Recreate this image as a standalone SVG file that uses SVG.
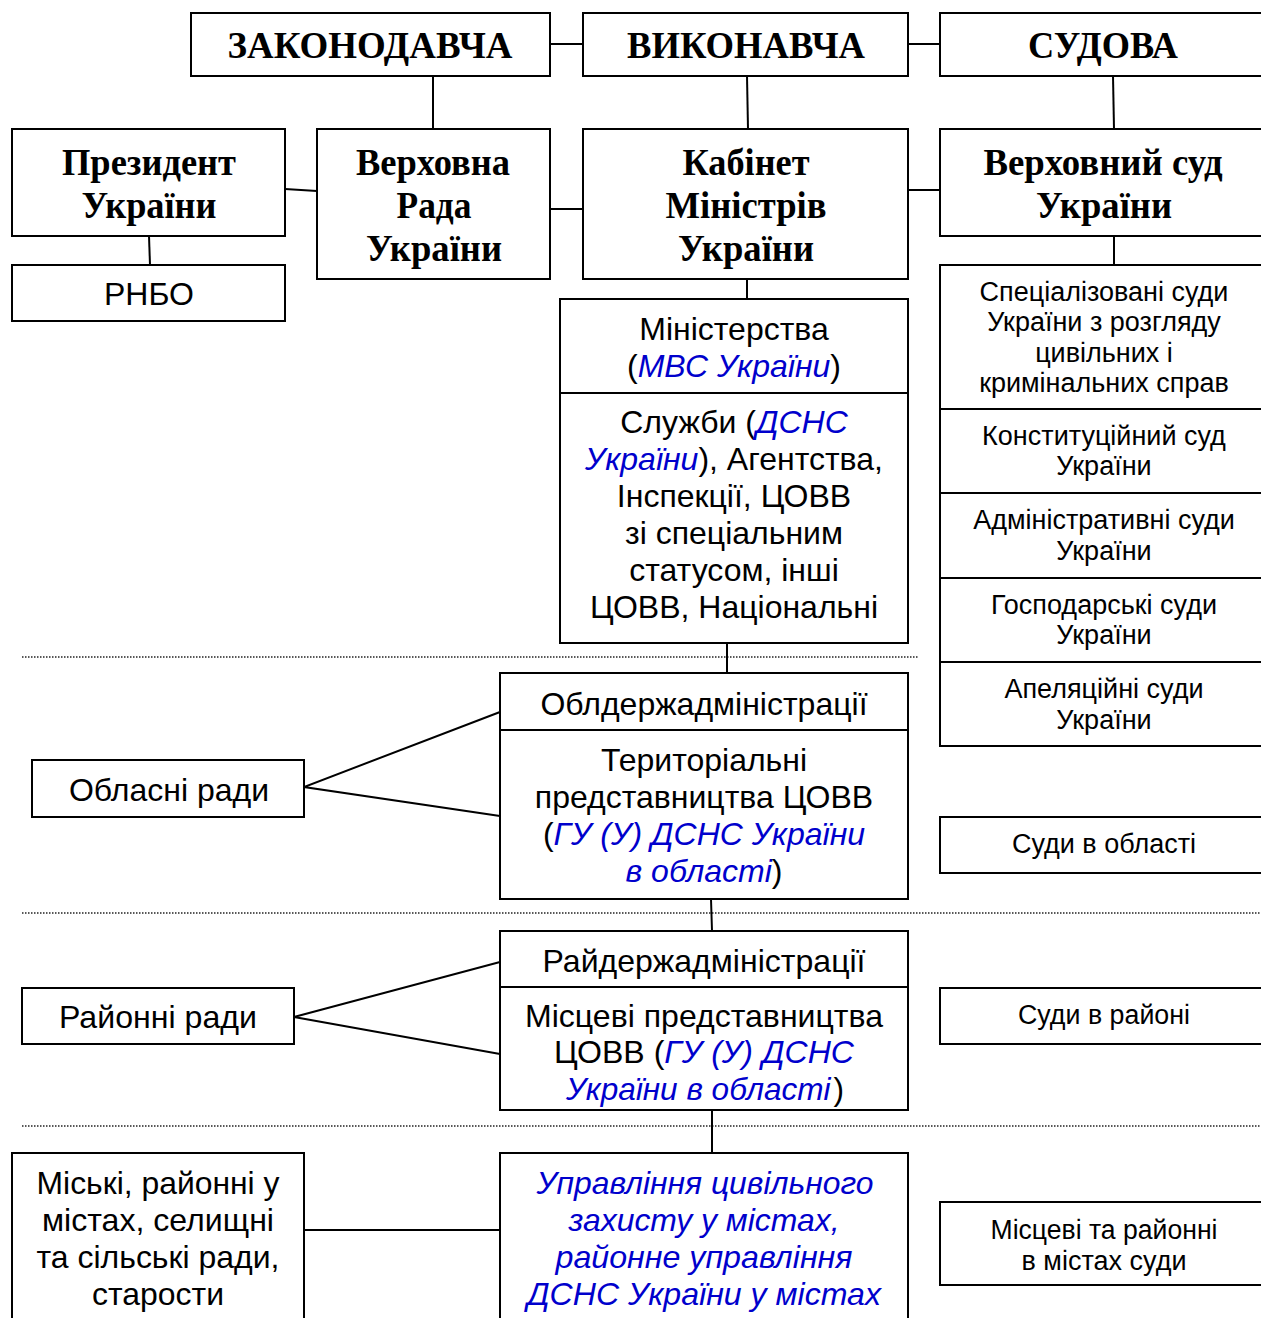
<svg xmlns="http://www.w3.org/2000/svg" width="1261" height="1318" viewBox="0 0 1261 1318">
<style>
rect.b{fill:#fff;stroke:#000;stroke-width:2}
.c line,.c polyline{stroke:#000;stroke-width:2;fill:none}
.dot{stroke:#222;stroke-width:1.5;stroke-dasharray:1.5 1.5;fill:none}
.h{font-family:"Liberation Serif","Times New Roman",serif;font-weight:bold;font-size:37px;text-anchor:middle;fill:#000}
.s{font-family:"Liberation Sans",Arial,sans-serif;font-size:32px;text-anchor:middle;fill:#000}
.m{font-family:"Liberation Sans",Arial,sans-serif;font-size:27px;text-anchor:middle;fill:#000}
.bl{fill:#0000cc;font-style:italic}
</style>
<defs>
<clipPath id="clipRai"><rect x="500" y="987" width="408" height="123"/></clipPath>
</defs>
<rect width="1261" height="1318" fill="#fff"/>
<g class="dots">
<line class="dot" x1="22" y1="657" x2="918" y2="657"/>
<line class="dot" x1="22" y1="913" x2="1261" y2="913"/>
<line class="dot" x1="22" y1="1126" x2="1261" y2="1126"/>
</g>
<g class="c" id="connectors">
<line x1="550" y1="44" x2="583" y2="44"/>
<line x1="908" y1="44" x2="940" y2="44"/>
<line x1="433" y1="76" x2="433" y2="129"/>
<line x1="747" y1="76" x2="748" y2="129"/>
<line x1="1113" y1="76" x2="1114" y2="129"/>
<line x1="285" y1="189" x2="317" y2="191"/>
<line x1="550" y1="209" x2="583" y2="209"/>
<line x1="908" y1="190" x2="940" y2="190"/>
<line x1="149" y1="236" x2="150" y2="265"/>
<line x1="747" y1="279" x2="747" y2="299"/>
<line x1="1114" y1="236" x2="1114" y2="265"/>
<line x1="727" y1="643" x2="727" y2="673"/>
<polyline points="500,712 304,787 500,816"/>
<line x1="711" y1="899" x2="712" y2="931"/>
<polyline points="500,962 294,1017 500,1054"/>
<line x1="712" y1="1110" x2="712" y2="1153"/>
<line x1="304" y1="1230" x2="500" y2="1230"/>
</g>
<g id="zakonodavcha"><rect class="b" x="191" y="13" width="359" height="63"/><text class="h" x="370" y="58" textLength="285" lengthAdjust="spacingAndGlyphs">ЗАКОНОДАВЧА</text></g>
<g id="vykonavcha"><rect class="b" x="583" y="13" width="325" height="63"/><text class="h" x="746" y="58" textLength="238" lengthAdjust="spacingAndGlyphs">ВИКОНАВЧА</text></g>
<g id="sudova"><rect class="b" x="940" y="13" width="330" height="63"/><text class="h" x="1103" y="58" textLength="150" lengthAdjust="spacingAndGlyphs">СУДОВА</text></g>
<g id="president"><rect class="b" x="12" y="129" width="273" height="107"/><text class="h" x="149" y="175" textLength="174" lengthAdjust="spacingAndGlyphs">Президент</text><text class="h" x="149" y="218" textLength="135" lengthAdjust="spacingAndGlyphs">України</text></g>
<g id="rada"><rect class="b" x="317" y="129" width="233" height="150"/><text class="h" x="433" y="175" textLength="154" lengthAdjust="spacingAndGlyphs">Верховна</text><text class="h" x="434" y="218" textLength="75" lengthAdjust="spacingAndGlyphs">Рада</text><text class="h" x="434" y="261" textLength="136" lengthAdjust="spacingAndGlyphs">України</text></g>
<g id="kabmin"><rect class="b" x="583" y="129" width="325" height="150"/><text class="h" x="746" y="175" textLength="127" lengthAdjust="spacingAndGlyphs">Кабінет</text><text class="h" x="746" y="218" textLength="161" lengthAdjust="spacingAndGlyphs">Міністрів</text><text class="h" x="746" y="261" textLength="136" lengthAdjust="spacingAndGlyphs">України</text></g>
<g id="vsu"><rect class="b" x="940" y="129" width="330" height="107"/><text class="h" x="1103" y="175" textLength="239" lengthAdjust="spacingAndGlyphs">Верховний суд</text><text class="h" x="1104" y="218" textLength="136" lengthAdjust="spacingAndGlyphs">України</text></g>
<g id="rnbo"><rect class="b" x="12" y="265" width="273" height="56"/><text class="s" x="149" y="305">РНБО</text></g>
<g id="ministerstva"><rect class="b" x="560" y="299" width="348" height="94"/><text class="s" x="734" y="340">Міністерства</text><text class="s" x="734" y="377">(<tspan class="bl">МВС України</tspan>)</text></g>
<g id="sluzhby"><rect class="b" x="560" y="393" width="348" height="250"/>
<text class="s" x="734" y="433">Служби (<tspan class="bl">ДСНС</tspan></text>
<text class="s" x="734" y="470"><tspan class="bl">України</tspan>), Агентства,</text>
<text class="s" x="734" y="507">Інспекції, ЦОВВ</text>
<text class="s" x="734" y="544">зі спеціальним</text>
<text class="s" x="734" y="581">статусом, інші</text>
<text class="s" x="734" y="618">ЦОВВ, Національні</text>
</g>
<g id="spec"><rect class="b" x="940" y="265" width="330" height="144"/>
<text class="m" x="1104" y="301">Спеціалізовані суди</text>
<text class="m" x="1104" y="331">України з розгляду</text>
<text class="m" x="1104" y="362">цивільних і</text>
<text class="m" x="1104" y="392">кримінальних справ</text></g>
<g id="konst"><rect class="b" x="940" y="409" width="330" height="84"/><text class="m" x="1104" y="445">Конституційний суд</text><text class="m" x="1104" y="475">України</text></g>
<g id="admin"><rect class="b" x="940" y="493" width="330" height="85"/><text class="m" x="1104" y="529">Адміністративні суди</text><text class="m" x="1104" y="560">України</text></g>
<g id="gosp"><rect class="b" x="940" y="578" width="330" height="84"/><text class="m" x="1104" y="614">Господарські суди</text><text class="m" x="1104" y="644">України</text></g>
<g id="apel"><rect class="b" x="940" y="662" width="330" height="84"/><text class="m" x="1104" y="698">Апеляційні суди</text><text class="m" x="1104" y="729">України</text></g>
<g id="oblderzh"><rect class="b" x="500" y="673" width="408" height="57"/><text class="s" x="704" y="715">Облдержадміністрації</text></g>
<g id="terpred"><rect class="b" x="500" y="730" width="408" height="169"/>
<text class="s" x="704" y="771">Територіальні</text>
<text class="s" x="704" y="808">представництва ЦОВВ</text>
<text class="s" x="704" y="845">(<tspan class="bl">ГУ (У) ДСНС України</tspan></text>
<text class="s" x="704" y="882"><tspan class="bl">в області</tspan>)</text></g>
<g id="oblrady"><rect class="b" x="32" y="760" width="272" height="57"/><text class="s" x="169" y="801">Обласні ради</text></g>
<g id="sudy-obl"><rect class="b" x="940" y="817" width="330" height="56"/><text class="m" x="1104" y="853">Суди в області</text></g>
<g id="raiderzh"><rect class="b" x="500" y="931" width="408" height="56"/><text class="s" x="704" y="972" textLength="323" lengthAdjust="spacingAndGlyphs">Райдержадміністрації</text></g>
<g id="mispred"><rect class="b" x="500" y="987" width="408" height="123"/>
<g clip-path="url(#clipRai)">
<text class="s" x="704" y="1027" textLength="358" lengthAdjust="spacingAndGlyphs">Місцеві представництва</text>
<text class="s" x="704" y="1063" textLength="300" lengthAdjust="spacingAndGlyphs">ЦОВВ (<tspan class="bl">ГУ (У) ДСНС</tspan></text>
<text class="s" x="705" y="1100" textLength="278" lengthAdjust="spacingAndGlyphs"><tspan class="bl">України в області</tspan><tspan dx="3">)</tspan></text>
</g></g>
<g id="raionni"><rect class="b" x="22" y="988" width="272" height="56"/><text class="s" x="158" y="1028" textLength="198" lengthAdjust="spacingAndGlyphs">Районні ради</text></g>
<g id="sudy-rai"><rect class="b" x="940" y="988" width="330" height="56"/><text class="m" x="1104" y="1024" textLength="172" lengthAdjust="spacingAndGlyphs">Суди в районі</text></g>
<g id="miski"><rect class="b" x="12" y="1153" width="292" height="175"/>
<text class="s" x="158" y="1194" textLength="243" lengthAdjust="spacingAndGlyphs">Міські, районні у</text>
<text class="s" x="158" y="1231" textLength="232" lengthAdjust="spacingAndGlyphs">містах, селищні</text>
<text class="s" x="158" y="1268" textLength="243" lengthAdjust="spacingAndGlyphs">та сільські ради,</text>
<text class="s" x="158" y="1305" textLength="132" lengthAdjust="spacingAndGlyphs">старости</text></g>
<g id="upravlinnia"><rect class="b" x="500" y="1153" width="408" height="175"/>
<text class="s bl" x="705" y="1194" textLength="337" lengthAdjust="spacingAndGlyphs">Управління цивільного</text>
<text class="s bl" x="704" y="1231" textLength="271" lengthAdjust="spacingAndGlyphs">захисту у містах,</text>
<text class="s bl" x="704" y="1268" textLength="297" lengthAdjust="spacingAndGlyphs">районне управління</text>
<text class="s bl" x="704" y="1305" textLength="354" lengthAdjust="spacingAndGlyphs">ДСНС України у містах</text></g>
<g id="mistsevi-sudy"><rect class="b" x="940" y="1202" width="330" height="83"/>
<text class="m" x="1104" y="1239" textLength="227" lengthAdjust="spacingAndGlyphs">Місцеві та районні</text>
<text class="m" x="1104" y="1270" textLength="165" lengthAdjust="spacingAndGlyphs">в містах суди</text></g>
</svg>
